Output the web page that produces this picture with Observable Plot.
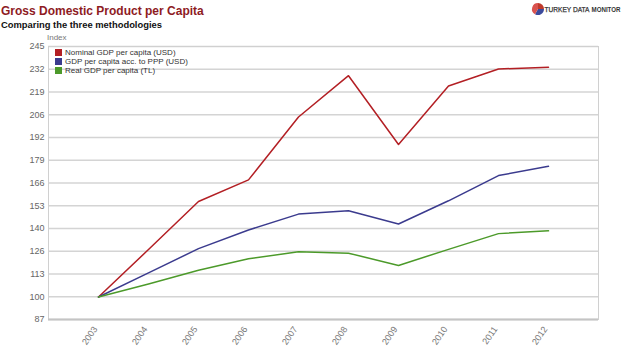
<!DOCTYPE html>
<html>
<head>
<meta charset="utf-8">
<script src="https://cdn.jsdelivr.net/npm/d3@7"></script>
<script src="https://cdn.jsdelivr.net/npm/@observablehq/plot@0.6"></script>
<style>
  html, body { margin: 0; padding: 0; background: #fff; }
  body { width: 626px; height: 364px; position: relative; overflow: hidden; font-family: "Liberation Sans", Arial, sans-serif; }
  #title { position: absolute; left: 1px; top: 4px; font-size: 12px; font-weight: bold; color: #8e1b1f; z-index: 2; }
  #subtitle { position: absolute; left: 1px; top: 19px; font-size: 9.4px; font-weight: bold; color: #111; z-index: 2; }
  #index { position: absolute; left: 47px; top: 33px; font-size: 8px; color: #777; z-index: 2; }
  #logo { position: absolute; left: 528px; top: 1px; z-index: 2; }
  #legend { position: absolute; left: 55px; top: 48px; font-size: 8px; color: #333; line-height: 9px; z-index: 2; }
  #legend .sw { display: inline-block; width: 7px; height: 7px; margin-right: 3px; vertical-align: -1px; }
  #chart { position: absolute; left: 0; top: 30px; z-index: 1; }
</style>
</head>
<body>
<div id="chart"></div>
<div id="title">Gross Domestic Product per Capita</div>
<div id="subtitle">Comparing the three methodologies</div>
<div id="index">Index</div>
<svg id="logo" width="98" height="16" viewBox="0 0 98 16">
  <g transform="translate(10,8)">
    <path d="M0,0 L0,-6 A6,6 0 0,1 6,0 Z" fill="#c0392b"/>
    <path d="M0,0 L6,0 A6,6 0 0,1 -3,5.2 Z" fill="#3b4a9c"/>
    <path d="M0,0 L-3,5.2 A6,6 0 0,1 0,-6 Z" fill="#d9534f"/>
  </g>
  <text x="16.5" y="11" font-family="Liberation Sans, Arial, sans-serif" font-size="7.2" fill="#333" stroke="#333" stroke-width="0.25" textLength="45" lengthAdjust="spacingAndGlyphs">TURKEY DATA</text>
  <text x="63.5" y="11" font-family="Liberation Sans, Arial, sans-serif" font-size="7.2" font-weight="bold" fill="#333" textLength="29" lengthAdjust="spacingAndGlyphs">MONITOR</text>
</svg>
<div id="legend"></div>
<script>
const years = ["2003","2004","2005","2006","2007","2008","2009","2010","2011","2012"];
const seriesNames = ["Nominal GDP per capita (USD)", "GDP per capita acc. to PPP (USD)", "Real GDP per capita (TL)"];
const seriesColors = ["#b31f24", "#3b3b8e", "#4c9a2a"];
const nominal = [100, 127.5, 155.3, 167.8, 204.2, 228.1, 188.3, 222.1, 232.0, 233.0];
const ppp     = [100, 114.0, 128.0, 138.8, 148.0, 149.9, 142.3, 155.7, 170.3, 175.7];
const real    = [100, 107.5, 115.5, 122.1, 126.2, 125.4, 118.3, 127.6, 136.7, 138.3];
const yTickLabels = ["87","100","113","126","140","153","166","179","192","206","219","232","245"];
const yMin = 87, yMax = 245;

const yTicks = yTickLabels.map((_, i) => yMin + i * (yMax - yMin) / (yTickLabels.length - 1));
const labelFor = new Map(yTicks.map((t, i) => [t, yTickLabels[i]]));

const allSeries = [nominal, ppp, real];
const data = allSeries.flatMap((vals, s) => vals.map((v, i) => ({year: years[i], value: v, series: seriesNames[s]})));

const chart = Plot.plot({
  width: 626,
  height: 334,
  marginTop: 16,
  marginBottom: 45,
  marginLeft: 48,
  marginRight: 28,
  style: {fontFamily: "Liberation Sans, Arial, sans-serif", fontSize: "9px", color: "#666", background: "#fff"},
  x: {type: "point", domain: years, padding: 1, label: null},
  y: {domain: [yMin, yMax], label: null},
  color: {domain: seriesNames, range: seriesColors},
  marks: [
    Plot.gridY(yTicks, {stroke: "#d4d4d4", strokeOpacity: 1, strokeWidth: 1.5}),
    Plot.frame({stroke: "#d0d0d0"}),
    Plot.ruleY([yMin], {stroke: "#c4c4c4", strokeWidth: 2}),
    Plot.axisY(yTicks, {tickSize: 0, tickPadding: 4, tickFormat: d => labelFor.get(d), fill: "#666", fontSize: 9}),
    Plot.axisX({tickSize: 0, tickPadding: 8, tickRotate: -55, dx: -3, fill: "#777", fontSize: 9}),
    Plot.line(data, {x: "year", y: "value", z: "series", stroke: "series", strokeWidth: 1.5})
  ]
});
document.getElementById("chart").appendChild(chart);

const legend = document.getElementById("legend");
seriesNames.forEach((name, i) => {
  const row = document.createElement("div");
  const sw = document.createElement("span");
  sw.className = "sw";
  sw.style.background = seriesColors[i];
  row.appendChild(sw);
  row.appendChild(document.createTextNode(name));
  legend.appendChild(row);
});
</script>
</body>
</html>
